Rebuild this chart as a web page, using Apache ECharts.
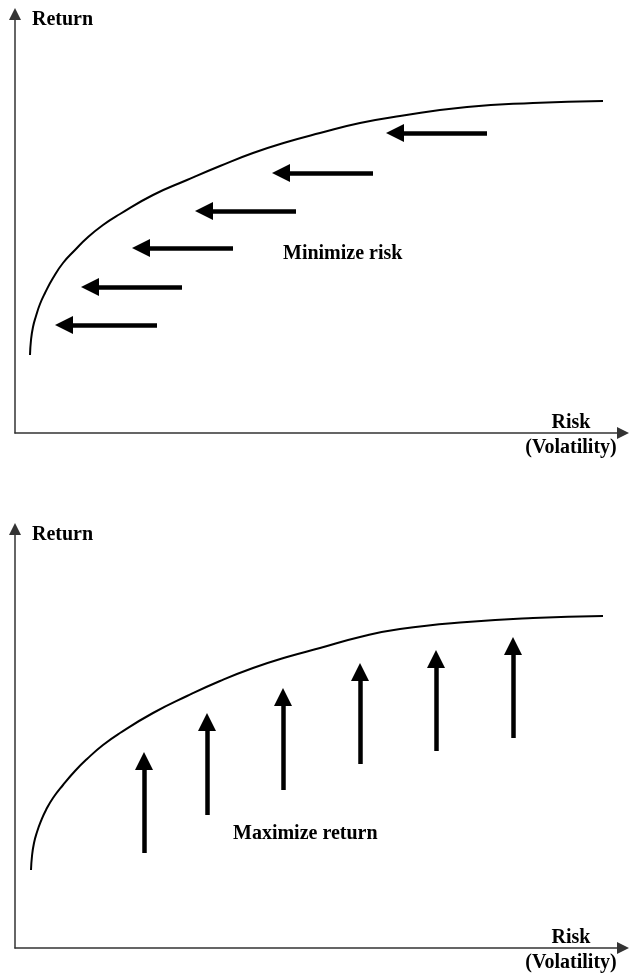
<!DOCTYPE html>
<html>
<head>
<meta charset="utf-8">
<script src="https://cdn.jsdelivr.net/npm/echarts@6/dist/echarts.min.js"></script>
<style>
  html, body { margin: 0; padding: 0; background: #fff; }
  #charts { width: 629px; height: 975px; }
</style>
</head>
<body>
<div id="charts"></div>
<script>
// values are in picture units: x = risk, y = return above the risk axis
const minRiskFrontier = [
  [30, 78], [31, 93], [33, 106], [36, 117], [40, 129], [45, 140], [53, 155],
  [63, 170], [75, 183], [87, 195], [103, 208], [120, 219], [153, 238], [187, 253],
  [220, 267], [253, 280], [287, 291], [320, 300], [360, 310], [400, 317],
  [467, 326], [533, 330], [603, 332]
]
const maxReturnFrontier = [
  [31, 78], [32, 92], [34, 105], [37, 116], [41, 127], [46, 138], [53, 150],
  [63, 163], [75, 177], [87, 189], [103, 203], [120, 215], [153, 235], [187, 252],
  [220, 267], [253, 280], [287, 291], [320, 300], [360, 311], [400, 319],
  [467, 326], [533, 330], [603, 332]
]
// left arrows: [fromRisk, headRisk, return]  (head = centre of the arrowhead)
const riskArrows = [
  [157, 64, 108], [182, 90, 146], [233, 141, 185],
  [296, 204, 222], [373, 281, 260], [487, 395, 300]
]
// up arrows: [risk, fromReturn, headReturn]
const returnArrows = [
  [144, 95, 187], [207, 133, 226], [283, 158, 251],
  [360, 184, 276], [436, 197, 289], [513, 210, 302]
]
const captions = ['Minimize risk', 'Maximize return']

const font = '"Liberation Serif", "Times New Roman", serif'
const ink = '#000'
const axisInk = '#333'

function xAx(i) {
  return {
    type: 'value', gridIndex: i, min: 15, max: 623,
    axisLine: { lineStyle: { color: axisInk, width: 1.5 }, symbol: ['none', 'triangle'], symbolSize: [12, 12] },
    axisTick: { show: false }, axisLabel: { show: false }, splitLine: { show: false }
  }
}
function yAx(i) {
  return {
    type: 'value', gridIndex: i, min: 0, max: 419,
    axisLine: { lineStyle: { color: axisInk, width: 1.5 }, symbol: ['none', 'triangle'], symbolSize: [12, 12] },
    axisTick: { show: false }, axisLabel: { show: false }, splitLine: { show: false }
  }
}
function frontier(i, data) {
  return {
    type: 'line', xAxisIndex: i, yAxisIndex: i, data: data,
    smooth: 0.5, showSymbol: false,
    lineStyle: { color: ink, width: 2 }
  }
}
function arrowLines(i, coords) {
  return {
    type: 'lines', coordinateSystem: 'cartesian2d', xAxisIndex: i, yAxisIndex: i,
    symbol: ['none', 'triangle'], symbolSize: [20, 18],
    lineStyle: { color: ink, width: 4.5, opacity: 1 },
    itemStyle: { color: ink },
    silent: true,
    data: coords.map(c => ({ coords: c }))
  }
}

const myCharts = echarts.init(document.getElementById('charts'))
myCharts.setOption({
  animation: false,
  grid: [
    { left: 15, top: 14, width: 608, height: 419 },
    { left: 15, top: 529, width: 608, height: 419 }
  ],
  xAxis: [xAx(0), xAx(1)],
  yAxis: [yAx(0), yAx(1)],
  series: [
    frontier(0, minRiskFrontier),
    frontier(1, maxReturnFrontier),
    arrowLines(0, riskArrows.map(a => [[a[0], a[2]], [a[1], a[2]]])),
    arrowLines(1, returnArrows.map(a => [[a[0], a[1]], [a[0], a[2]]]))
  ],
  graphic: [
    { type: 'text', left: 32, top: 10, style: { text: 'Return', font: 'bold 20px ' + font, fill: ink } },
    { type: 'text', left: 32, top: 525, style: { text: 'Return', font: 'bold 20px ' + font, fill: ink } },
    { type: 'text', left: 283, top: 244, style: { text: captions[0], font: 'bold 20px ' + font, fill: ink } },
    { type: 'text', left: 233, top: 824, style: { text: captions[1], font: 'bold 20px ' + font, fill: ink } },
    { type: 'text', x: 571, y: 410, style: { text: 'Risk\n(Volatility)', font: 'bold 20px ' + font, fill: ink, align: 'center', lineHeight: 25 } },
    { type: 'text', x: 571, y: 925, style: { text: 'Risk\n(Volatility)', font: 'bold 20px ' + font, fill: ink, align: 'center', lineHeight: 25 } }
  ]
})
</script>
</body>
</html>
